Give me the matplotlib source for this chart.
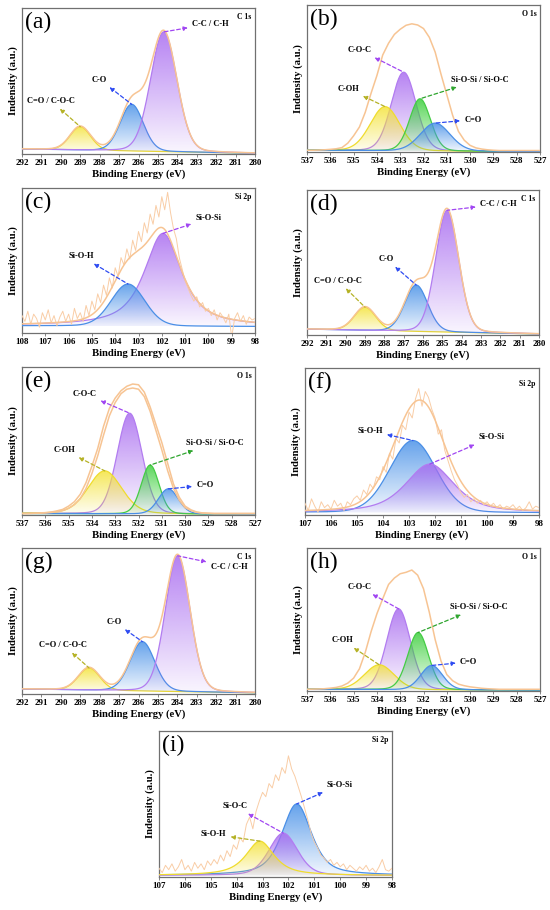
import numpy as np
import matplotlib
matplotlib.use('Agg')
import matplotlib.pyplot as plt
from matplotlib.colors import to_rgb

plt.rcParams['font.family'] = ['Liberation Serif', 'DejaVu Serif']

# ---------------- data ----------------
C1S_RANGE = (280, 292)
O1S_RANGE = (527, 537)
SI_RANGE_C = (98, 108)
SI_RANGE_FI = (98, 107)

# (a) C 1s
a_names = ['C=O / C-O-C', 'C-O', 'C-C / C-H']
a_center = [289.0, 286.35, 284.7]
a_height = [0.16, 0.32, 0.82]
a_fwhm = [1.25, 1.4, 1.6]
a_eta = [0.1, 0.1, 0.1]
a_bg = [0.034, 0.005]

# (b) O 1s
b_names = ['C-OH', 'C-O-C', 'Si-O-Si / Si-O-C', 'C=O']
b_center = [533.65, 532.85, 532.15, 531.5]
b_height = [0.30, 0.535, 0.355, 0.19]
b_fwhm = [1.5, 1.25, 1.05, 1.5]
b_eta = [0.1, 0.1, 0.1, 0.1]
b_bg = [0.012, 0.002]
b_raw = [0.012, 0.012, 0.013, 0.015, 0.018, 0.022, 0.03, 0.06, 0.11, 0.17,
         0.27, 0.40, 0.52, 0.66, 0.74, 0.80, 0.835, 0.862, 0.872, 0.864,
         0.84, 0.78, 0.68, 0.53, 0.39, 0.25, 0.14, 0.08, 0.045, 0.028,
         0.02, 0.015, 0.012, 0.01, 0.01, 0.01, 0.01, 0.01, 0.01, 0.01, 0.01]

# (c) Si 2p
c_names = ['Si-O-Si', 'Si-O-H']
c_center = [101.95, 103.45]
c_height = [0.64, 0.29]
c_fwhm = [1.9, 1.7]
c_eta = [0.8, 0.1]
c_bg = [0.05, 0.045]
c_raw = [0.12, 0.08, 0.15, 0.06, 0.13, 0.10, 0.04, 0.14,
         0.09, 0.16, 0.07, 0.12, 0.05, 0.11, 0.15, 0.08,
         0.13, 0.06, 0.17, 0.10, 0.14, 0.08, 0.19, 0.12,
         0.22, 0.16, 0.27, 0.21, 0.33, 0.26, 0.38, 0.31,
         0.45, 0.39, 0.52, 0.47, 0.58, 0.51, 0.64, 0.57,
         0.70, 0.63, 0.76, 0.69, 0.82, 0.75, 0.88, 0.80,
         0.94, 0.85, 0.97, 0.83, 0.72, 0.65, 0.52, 0.44,
         0.36, 0.31, 0.26, 0.22, 0.25, 0.18, 0.21, 0.15,
         0.17, 0.12, 0.16, 0.09, 0.14, 0.11, 0.07, 0.13,
         -0.03, 0.10, 0.14, 0.08, 0.12, 0.06, 0.11, 0.09, 0.10]

# (d) C 1s
d_names = ['C=O / C-O-C', 'C-O', 'C-C / C-H']
d_center = [289.0, 286.35, 284.75]
d_height = [0.16, 0.32, 0.84]
d_fwhm = [1.3, 1.4, 1.4]
d_eta = [0.1, 0.1, 0.1]
d_bg = [0.04, 0.007]

# (e) O 1s
e_names = ['C-OH', 'C-O-C', 'Si-O-Si / Si-O-C', 'C=O']
e_center = [533.45, 532.38, 531.5, 530.72]
e_height = [0.29, 0.68, 0.33, 0.17]
e_fwhm = [1.7, 1.25, 0.9, 1.0]
e_eta = [0.2, 0.1, 0.1, 0.1]
e_bg = [0.01, 0.005]
e_raw = [0.01, 0.01, 0.012, 0.014, 0.016, 0.02, 0.028, 0.038, 0.06, 0.09,
         0.14, 0.22, 0.33, 0.45, 0.60, 0.72, 0.79, 0.84, 0.87, 0.885,
         0.88, 0.83, 0.73, 0.61, 0.49, 0.35, 0.21, 0.12, 0.06, 0.035,
         0.02, 0.014, 0.012, 0.01, 0.01, 0.01, 0.01, 0.01, 0.01, 0.01, 0.01]
e_fit = [0.01, 0.01, 0.011, 0.012, 0.014, 0.017, 0.022, 0.03, 0.045, 0.07,
         0.11, 0.18, 0.28, 0.40, 0.54, 0.67, 0.76, 0.82, 0.85, 0.858,
         0.85, 0.80, 0.70, 0.57, 0.44, 0.30, 0.18, 0.10, 0.05, 0.03,
         0.018, 0.013, 0.011, 0.01, 0.01, 0.01, 0.01, 0.01, 0.01, 0.01, 0.01]

# (f) Si 2p
f_names = ['Si-O-H', 'Si-O-Si']
f_center = [102.85, 102.2]
f_height = [0.49, 0.33]
f_fwhm = [2.1, 2.2]
f_eta = [0.1, 0.6]
f_bg = [0.018, 0.015]
f_raw = [0.08, 0.03, 0.11, 0.06, 0.02, 0.09, 0.05, 0.07,
         0.04, 0.10, 0.06, 0.08, 0.03, 0.09, 0.07, 0.11,
         0.13, 0.10, 0.17, 0.14, 0.21, 0.18, 0.26, 0.24,
         0.33, 0.29, 0.42, 0.38, 0.52, 0.49, 0.61, 0.58,
         0.70, 0.66, 0.79, 0.86, 0.74, 0.84, 0.80, 0.72,
         0.66, 0.55, 0.58, 0.44, 0.37, 0.30, 0.24, 0.20,
         0.15, 0.12, 0.14, 0.09, 0.11, 0.08, 0.10, 0.07,
         0.09, 0.06, 0.08, 0.05, 0.07, 0.04, 0.06, 0.05,
         0.07, 0.04, 0.06, 0.03, 0.05, 0.09, 0.04, 0.06, 0.05]

# (g) C 1s
g_names = ['C=O / C-O-C', 'C-O', 'C-C / C-H']
g_center = [288.55, 285.8, 283.98]
g_height = [0.152, 0.338, 0.93]
g_fwhm = [1.3, 1.5, 1.5]
g_eta = [0.1, 0.1, 0.1]
g_bg = [0.034, 0.008]

# (h) O 1s
h_names = ['C-OH', 'C-O-C', 'Si-O-Si / Si-O-C', 'C=O']
h_center = [533.9, 533.07, 532.23, 531.65]
h_height = [0.173, 0.565, 0.40, 0.17]
h_fwhm = [1.5, 1.2, 1.05, 1.1]
h_eta = [0.1, 0.1, 0.1, 0.1]
h_bg = [0.012, 0.006]
h_raw = [0.012, 0.013, 0.014, 0.016, 0.02, 0.025, 0.035, 0.055, 0.09, 0.155,
         0.27, 0.415, 0.54, 0.645, 0.745, 0.79, 0.82, 0.83, 0.846, 0.81,
         0.715, 0.55, 0.36, 0.21, 0.115, 0.072, 0.048, 0.037, 0.029, 0.024,
         0.019, 0.016, 0.014, 0.012, 0.012, 0.012, 0.012, 0.012, 0.012, 0.012, 0.012]

# (i) Si 2p
i_names = ['Si-O-H', 'Si-O-C', 'Si-O-Si']
i_center = [103.1, 102.2, 101.68]
i_height = [0.235, 0.29, 0.49]
i_fwhm = [1.3, 1.3, 1.35]
i_eta = [0.8, 0.3, 0.6]
i_bg = [0.011, 0.01]
i_raw = [0.06, 0.03, 0.08, 0.05, 0.09, 0.04, 0.07, 0.12,
         0.05, 0.08, 0.04, 0.10, 0.06, 0.09, 0.05, 0.11,
         0.08, 0.12, 0.09, 0.15, 0.11, 0.18, 0.14, 0.22,
         0.19, 0.27, 0.24, 0.36, 0.41, 0.33, 0.45, 0.52,
         0.58, 0.55, 0.64, 0.61, 0.70, 0.66, 0.75, 0.71,
         0.83, 0.74, 0.69, 0.62, 0.55, 0.47, 0.39, 0.30,
         0.24, 0.20, 0.15, 0.13, 0.10, 0.12, 0.08, 0.10,
         0.07, 0.09, 0.05, 0.08, 0.06, 0.04, 0.07, 0.05,
         0.08, 0.04, 0.06, 0.03, 0.07, 0.12, 0.05, 0.04, 0.06]

# ---------------- style / layout ----------------
FILL = {'y': '#f4e33a', 'b': '#4a92e8', 'p': '#a96cf0', 'g': '#3ccf3c'}
EDGE = {'y': '#efdc2e', 'b': '#4a8fe6', 'p': '#b27cf0', 'g': '#45cc45'}
ARROW = {'y': '#b5b226', 'b': '#2f4cf2', 'p': '#a146f2', 'g': '#2ea52e'}
ENV = '#f7c493'
RAW = '#f9cda6'
FRAME = '#707070'


def px_rect(l, t, r, b):
    return [l / 550, 1 - b / 910, (r - l) / 550, (b - t) / 910]


def pv(x, c, h, w, eta):
    g = np.exp(-4 * np.log(2) * ((x - c) / w) ** 2)
    lor = 1 / (1 + 4 * ((x - c) / w) ** 2)
    return h * (eta * lor + (1 - eta) * g)


def gradient_fill(ax, x, base, top, color, z):
    poly = ax.fill_between(x, base, top, facecolor='none', lw=0)
    n = 120
    img = np.zeros((n, 1, 4))
    img[..., :3] = to_rgb(color)
    img[:, 0, 3] = np.linspace(0.06, 0.85, n)
    im = ax.imshow(img, extent=[x.min(), x.max(), base.min(), top.max()],
                   origin='lower', aspect='auto', zorder=z, interpolation='bilinear')
    im.set_clip_path(poly.get_paths()[0], transform=ax.transData)


def draw_panel(ax, p):
    lo, hi = p['xrange']
    x = np.linspace(hi, lo, 900)
    bg = np.interp(x, [lo, hi], [p['bg'][1], p['bg'][0]])
    curves = []
    total = bg.copy()
    for c, h, w, e in zip(p['center'], p['height'], p['fwhm'], p['eta']):
        yk = pv(x, c, h, w, e)
        total = total + yk
        curves.append(bg + yk)
    z = 2
    for k in p['order']:
        kind = p['kinds'][k]
        gradient_fill(ax, x, bg, curves[k], FILL[kind], z)
        ax.plot(x, curves[k], color=EDGE[kind], lw=0.9, zorder=z + 0.5)
        z += 1
    if 'raw' in p:
        xr = np.linspace(hi, lo, len(p['raw']))
        ax.plot(xr, p['raw'], color=p.get('rawcol', ENV), lw=p.get('rawlw', 1.1), zorder=z + 1)
    if 'fit' in p:
        xf = np.linspace(hi, lo, len(p['fit']))
        ax.plot(xf, p['fit'], color=ENV, lw=1.1, zorder=z + 1)
    if p.get('sum', False):
        ax.plot(x, total, color=ENV, lw=1.1, zorder=z + 1)

    for k, (name, pos) in enumerate(zip(p['names'], p['labels'])):
        kind = p['kinds'][k]
        c = p['center'][k]
        peak_y = np.interp(c, [lo, hi], [p['bg'][1], p['bg'][0]]) + p['height'][k]
        ax.annotate(name, xy=(c, peak_y), xytext=pos, textcoords='data',
                    ha='center', va='center', fontsize=6, fontweight='bold', zorder=20,
                    arrowprops=dict(arrowstyle='<|-', color=ARROW[kind], lw=0.9,
                                    linestyle=(0, (3, 2)), mutation_scale=6,
                                    shrinkA=1, shrinkB=0))

    ax.set_xlim(hi, lo)
    ax.set_ylim(0, 1)
    ax.set_xticks(np.arange(hi, lo - 1, -1))
    ax.set_yticks([])
    ax.tick_params(axis='x', direction='out', length=2, width=0.6, color=FRAME,
                   pad=1.5, labelsize=6.4)
    for lab in ax.get_xticklabels():
        lab.set_fontweight('bold')
    for s in ax.spines.values():
        s.set_color(FRAME)
        s.set_linewidth(0.9)
    ax.set_xlabel('Binding Energy (eV)', fontsize=7.7, fontweight='bold', labelpad=1.5)
    ax.set_ylabel('Indensity (a.u.)', fontsize=7.7, fontweight='bold', labelpad=3)
    ax.text(0.012, 0.975, p['letter'], transform=ax.transAxes, ha='left', va='top',
            fontsize=17, zorder=25)
    ax.text(0.985, p.get('core_y', 0.965), p['core'], transform=ax.transAxes, ha='right',
            va='top', fontsize=5.5, fontweight='bold', zorder=25)


panels = [
    dict(letter='(a)', core='C 1s', rect=(22, 8, 255, 154), xrange=C1S_RANGE,
         names=a_names, center=a_center, height=a_height, fwhm=a_fwhm, eta=a_eta, bg=a_bg,
         kinds=['y', 'b', 'p'], order=[0, 1, 2], sum=True,
         labels=[(290.5, 0.363), (288.0, 0.51), (282.3, 0.89)]),
    dict(letter='(b)', core='O 1s', rect=(307, 5, 540, 152), xrange=O1S_RANGE,
         names=b_names, center=b_center, height=b_height, fwhm=b_fwhm, eta=b_eta, bg=b_bg,
         kinds=['y', 'p', 'g', 'b'], order=[1, 0, 2, 3], raw=b_raw,
         labels=[(535.24, 0.43), (534.73, 0.693), (529.59, 0.49), (529.88, 0.22)]),
    dict(letter='(c)', core='Si 2p', rect=(22, 188, 255, 333), xrange=SI_RANGE_C,
         names=c_names, center=c_center, height=c_height, fwhm=c_fwhm, eta=c_eta, bg=c_bg,
         kinds=['p', 'b'], order=[0, 1], raw=c_raw, rawcol=RAW, rawlw=0.7, sum=True,
         labels=[(100.0, 0.79), (105.46, 0.53)]),
    dict(letter='(d)', core='C 1s', rect=(307, 190, 539, 335), xrange=C1S_RANGE,
         names=d_names, center=d_center, height=d_height, fwhm=d_fwhm, eta=d_eta, bg=d_bg,
         kinds=['y', 'b', 'p'], order=[0, 1, 2], sum=True,
         labels=[(290.4, 0.375), (287.9, 0.524), (282.1, 0.90)]),
    dict(letter='(e)', core='O 1s', rect=(22, 367, 255, 515), xrange=O1S_RANGE,
         names=e_names, center=e_center, height=e_height, fwhm=e_fwhm, eta=e_eta, bg=e_bg,
         kinds=['y', 'p', 'g', 'b'], order=[1, 0, 2, 3], raw=e_raw, fit=e_fit,
         labels=[(535.18, 0.44), (534.32, 0.82), (528.72, 0.484), (529.15, 0.20)]),
    dict(letter='(f)', core='Si 2p', core_y=0.915, rect=(305, 368, 539, 515), xrange=SI_RANGE_FI,
         names=f_names, center=f_center, height=f_height, fwhm=f_fwhm, eta=f_eta, bg=f_bg,
         kinds=['b', 'p'], order=[0, 1], raw=f_raw, rawcol=RAW, rawlw=0.7, sum=True,
         labels=[(104.5, 0.574), (99.82, 0.528)]),
    dict(letter='(g)', core='C 1s', rect=(22, 548, 255, 694), xrange=C1S_RANGE,
         names=g_names, center=g_center, height=g_height, fwhm=g_fwhm, eta=g_eta, bg=g_bg,
         kinds=['y', 'b', 'p'], order=[0, 1, 2], sum=True,
         labels=[(289.87, 0.336), (287.26, 0.495), (281.34, 0.872)]),
    dict(letter='(h)', core='O 1s', rect=(307, 548, 540, 691), xrange=O1S_RANGE,
         names=h_names, center=h_center, height=h_height, fwhm=h_fwhm, eta=h_eta, bg=h_bg,
         kinds=['y', 'p', 'g', 'b'], order=[1, 0, 2, 3], raw=h_raw,
         labels=[(535.48, 0.355), (534.76, 0.729), (529.63, 0.584), (530.06, 0.203)]),
    dict(letter='(i)', core='Si 2p', rect=(159, 731, 392, 877), xrange=SI_RANGE_FI,
         names=i_names, center=i_center, height=i_height, fwhm=i_fwhm, eta=i_eta, bg=i_bg,
         kinds=['y', 'p', 'b'], order=[2, 1, 0], raw=i_raw, rawcol=RAW, rawlw=0.7,
         labels=[(104.89, 0.293), (104.08, 0.485), (100.02, 0.63)]),
]

fig = plt.figure(figsize=(5.5, 9.1), dpi=100)
for p in panels:
    ax = fig.add_axes(px_rect(*p['rect']))
    draw_panel(ax, p)

fig.savefig('out.png', dpi=100, facecolor='white')
